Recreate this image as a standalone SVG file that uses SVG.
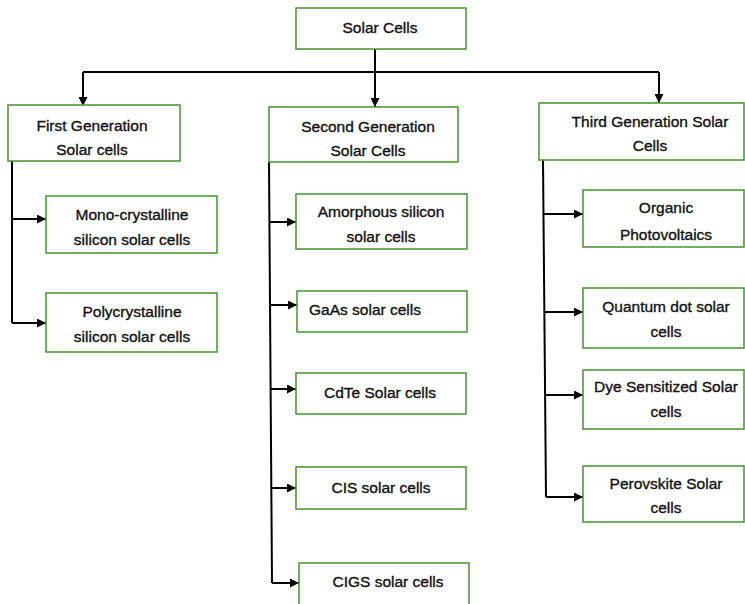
<svg xmlns="http://www.w3.org/2000/svg" width="745" height="604" viewBox="0 0 745 604">
<defs>
<marker id="ah" viewBox="0 0 10 10" refX="10" refY="5" markerWidth="9" markerHeight="9" markerUnits="userSpaceOnUse" orient="auto">
<path d="M0,0 L10,5 L0,10 z" fill="#000"/>
</marker>
<style>
.box{fill:#fff;stroke:#4f9a3a;stroke-width:1.6}
.t{font-family:"Liberation Sans",Arial,sans-serif;font-size:15.5px;fill:#111;stroke:#111;stroke-width:0.35;text-anchor:middle}
.tl{font-family:"Liberation Sans",Arial,sans-serif;font-size:15.5px;fill:#111;stroke:#111;stroke-width:0.35;text-anchor:start}
.c{fill:none;stroke:#000;stroke-width:2}
.ca{fill:none;stroke:#000;stroke-width:2;marker-end:url(#ah)}
</style>
</defs>
<rect width="745" height="604" fill="#fff"/>
<g id="connectors">
<path class="c" d="M83,72 H659"/>
<path class="ca" d="M375,49 V107"/>
<path class="ca" d="M83,72 V106"/>
<path class="ca" d="M659,72 V103"/>
<path class="c" d="M12,161 V323"/>
<path class="ca" d="M12,219 H46"/>
<path class="ca" d="M12,323 H46"/>
<path class="c" d="M269,162 L272,583"/>
<path class="ca" d="M269.4,222 H296"/>
<path class="ca" d="M270,305 H297"/>
<path class="ca" d="M270.6,389 H296"/>
<path class="ca" d="M271.3,488 H296"/>
<path class="ca" d="M272,583 H299"/>
<path class="c" d="M543,160 L546,497"/>
<path class="ca" d="M543.5,214 H583"/>
<path class="ca" d="M544.4,312 H583"/>
<path class="ca" d="M545,395 H583"/>
<path class="ca" d="M546,497 H583"/>
</g>
<g id="solar-cells"><rect class="box" x="296" y="8" width="170" height="41"/><text class="t" x="380" y="33">Solar Cells</text></g>
<g id="first-gen"><rect class="box" x="8" y="105" width="172" height="56"/><text class="t" x="92" y="131">First Generation</text><text class="t" x="92" y="155">Solar cells</text></g>
<g id="second-gen"><rect class="box" x="269" y="107" width="189" height="55"/><text class="t" x="368" y="132">Second Generation</text><text class="t" x="368" y="156">Solar Cells</text></g>
<g id="third-gen"><rect class="box" x="539" y="103" width="205" height="57"/><text class="t" x="650" y="127">Third Generation Solar</text><text class="t" x="650" y="151">Cells</text></g>
<g id="mono"><rect class="box" x="46" y="196" width="171" height="57"/><text class="t" x="132" y="220">Mono-crystalline</text><text class="t" x="132" y="245">silicon solar cells</text></g>
<g id="poly"><rect class="box" x="46" y="293" width="171" height="59"/><text class="t" x="132" y="317">Polycrystalline</text><text class="t" x="132" y="342">silicon solar cells</text></g>
<g id="amorphous"><rect class="box" x="296" y="194" width="171" height="55"/><text class="t" x="381" y="217">Amorphous silicon</text><text class="t" x="381" y="242">solar cells</text></g>
<g id="gaas"><rect class="box" x="297" y="291" width="170" height="41"/><text class="tl" x="309" y="315">GaAs solar cells</text></g>
<g id="cdte"><rect class="box" x="296" y="373" width="170" height="41"/><text class="t" x="380" y="398">CdTe Solar cells</text></g>
<g id="cis"><rect class="box" x="296" y="467" width="170" height="42"/><text class="t" x="381" y="493">CIS solar cells</text></g>
<g id="cigs"><rect class="box" x="299" y="563" width="170" height="45"/><text class="t" x="388" y="587">CIGS solar cells</text></g>
<g id="organic"><rect class="box" x="583" y="190" width="161" height="57"/><text class="t" x="666" y="213">Organic</text><text class="t" x="666" y="240">Photovoltaics</text></g>
<g id="quantum"><rect class="box" x="583" y="288" width="161" height="60"/><text class="t" x="666" y="312">Quantum dot solar</text><text class="t" x="666" y="337">cells</text></g>
<g id="dye"><rect class="box" x="583" y="370" width="161" height="59"/><text class="t" x="666" y="392">Dye Sensitized Solar</text><text class="t" x="666" y="417">cells</text></g>
<g id="perovskite"><rect class="box" x="583" y="466" width="161" height="56"/><text class="t" x="666" y="489">Perovskite Solar</text><text class="t" x="666" y="513">cells</text></g>
</svg>
